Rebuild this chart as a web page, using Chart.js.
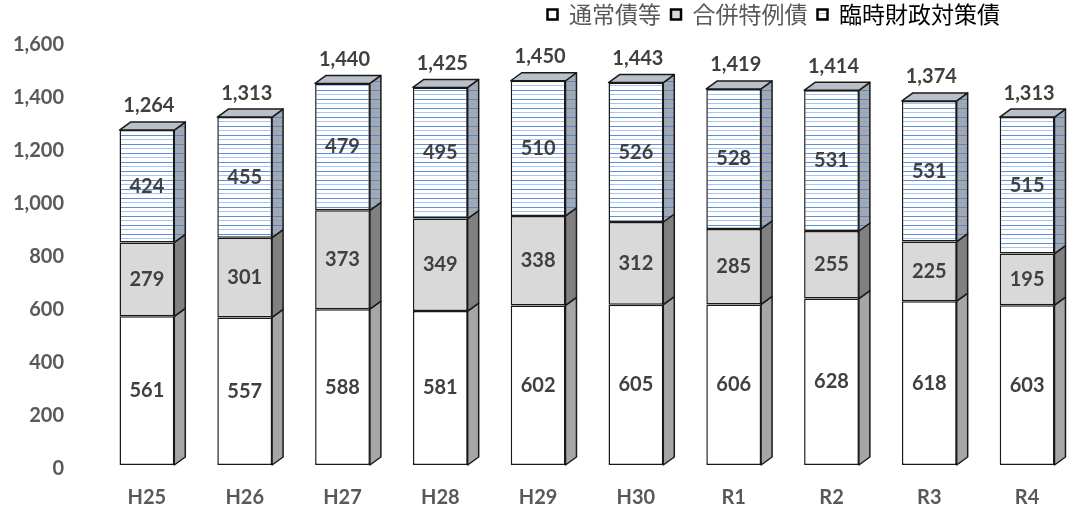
<!DOCTYPE html>
<html>
<head>
<meta charset="utf-8">
<script src="https://cdn.jsdelivr.net/npm/chart.js@4.4.0/dist/chart.umd.min.js"></script>
<style>
html, body { margin: 0; padding: 0; background: #fff; overflow: hidden; }
#wrap { width: 1076px; height: 513px; }
</style>
</head>
<body>
<div id="wrap"><canvas id="bar_chart"></canvas></div>
<script>
// data
var years = ['H25', 'H26', 'H27', 'H28', 'H29', 'H30', 'R1', 'R2', 'R3', 'R4'];
var tsujo = [561, 557, 588, 581, 602, 605, 606, 628, 618, 603];
var gappei = [279, 301, 373, 349, 338, 312, 285, 255, 225, 195];
var rinji = [424, 455, 479, 495, 510, 526, 528, 531, 531, 515];
var seriesNames = ['通常債等', '合併特例債', '臨時財政対策債'];
var yMax = 1600;
var yStep = 200;

function stripes(base, dark, light) {
    var c = document.createElement('canvas');
    c.width = 4;
    c.height = 9;
    var g = c.getContext('2d');
    g.fillStyle = base;
    g.fillRect(0, 0, 4, 9);
    g.fillStyle = dark;
    g.fillRect(0, 0, 4, 1);
    g.fillStyle = light;
    g.fillRect(0, 4, 4, 1);
    return document.getElementById('bar_chart').getContext('2d').createPattern(c, 'repeat');
}

var stripeFront = stripes('#ffffff', '#5b8fd6', '#a8c4ec');
var stripeSide = stripes('#a3a9b3', '#5b85c0', '#8ea4c4');
var sideColors = ['#a6a6a6', '#808080', stripeSide];
var topColor = '#b9c0ca';

function fmt(v) {
    return v.toLocaleString('en-US');
}

var depthPlugin = {
    id: 'depth3d',
    afterLayout: function(chart) {
        // legend sits right-aligned, ends short of the canvas edge, hugs the top
        chart.legend.right = 1010;
        chart.legend.top = -7;
    },
    afterDatasetsDraw: function(chart) {
        var ctx = chart.ctx;
        var dx = 11, dy = 8;
        var last = chart.data.datasets.length - 1;
        var tops = [];
        chart.data.datasets.forEach(function(ds, di) {
            var meta = chart.getDatasetMeta(di);
            meta.data.forEach(function(bar, i) {
                var p = bar.getProps(['x', 'y', 'base', 'width'], true);
                var left = p.x - p.width / 2, right = p.x + p.width / 2;
                var top = Math.min(p.y, p.base), bottom = Math.max(p.y, p.base);
                ctx.save();
                ctx.lineWidth = 1.5;
                ctx.strokeStyle = '#1a1a1a';
                ctx.lineJoin = 'round';
                ctx.beginPath();
                ctx.moveTo(right, bottom);
                ctx.lineTo(right + dx, bottom - dy);
                ctx.lineTo(right + dx, top - dy);
                ctx.lineTo(right, top);
                ctx.closePath();
                ctx.fillStyle = sideColors[di];
                ctx.fill();
                ctx.stroke();
                if (di == last) {
                    ctx.beginPath();
                    ctx.moveTo(left, top);
                    ctx.lineTo(left + dx, top - dy);
                    ctx.lineTo(right + dx, top - dy);
                    ctx.lineTo(right, top);
                    ctx.closePath();
                    ctx.fillStyle = topColor;
                    ctx.fill();
                    ctx.stroke();
                    tops[i] = {x: p.x, y: top};
                }
                ctx.fillStyle = '#404040';
                ctx.font = 'bold 20px Lato';
                ctx.textAlign = 'center';
                ctx.textBaseline = 'middle';
                ctx.fillText(fmt(ds.data[i]), p.x, (top + bottom) / 2);
                ctx.restore();
            });
        });
        // totals above each bar
        ctx.save();
        ctx.fillStyle = '#404040';
        ctx.font = 'bold 20px Lato';
        ctx.textAlign = 'center';
        ctx.textBaseline = 'middle';
        tops.forEach(function(t, i) {
            var total = tsujo[i] + gappei[i] + rinji[i];
            ctx.fillText(fmt(total), t.x + 2, t.y - 24);
        });
        ctx.restore();
    }
};

var ctx = document.getElementById('bar_chart');
var legendColors = ['#595959', '#595959', '#000000'];

var barChart = new Chart(ctx, {
    type: 'bar',
    data: {
        labels: years,
        datasets: [
            { label: seriesNames[0], data: tsujo, backgroundColor: '#ffffff' },
            { label: seriesNames[1], data: gappei, backgroundColor: '#d9d9d9' },
            { label: seriesNames[2], data: rinji, backgroundColor: stripeFront }
        ]
    },
    options: {
        responsive: true,
        maintainAspectRatio: false,
        animation: false,
        datasets: {
            bar: {
                borderColor: '#1a1a1a',
                borderWidth: 1.5,
                borderSkipped: false,
                barPercentage: 0.56,
                categoryPercentage: 1
            }
        },
        layout: { padding: { top: 0, right: 0, bottom: 0, left: 0 } },
        scales: {
            x: {
                stacked: true,
                grid: { display: false, drawTicks: false },
                border: { display: false },
                ticks: {
                    color: '#595959',
                    font: { family: 'Lato', size: 20, weight: 'bold' },
                    padding: 21
                },
                afterFit: function(s) { s.height = 48; }
            },
            y: {
                stacked: true,
                min: 0,
                max: yMax,
                grid: { display: false, drawTicks: false },
                border: { display: false },
                ticks: {
                    stepSize: yStep,
                    color: '#595959',
                    font: { family: 'Lato', size: 20, weight: 'bold' },
                    padding: 34,
                    labelOffset: 4,
                    callback: function(v) { return fmt(v); }
                },
                afterFit: function(s) {
                    s.width = 98;
                    s.paddingTop = 0;
                    s.paddingBottom = 0;
                }
            }
        },
        plugins: {
            tooltip: { enabled: false },
            legend: {
                position: 'top',
                align: 'end',
                maxHeight: 41,
                labels: {
                    boxWidth: 10,
                    boxHeight: 10,
                    padding: 10,
                    font: { family: 'Noto Sans CJK JP', size: 23 },
                    generateLabels: function(chart) {
                        var items = Chart.defaults.plugins.legend.labels.generateLabels(chart);
                        items.forEach(function(it, i) {
                            it.strokeStyle = '#000';
                            it.lineWidth = 2.5;
                            it.fontColor = legendColors[i];
                        });
                        return items;
                    }
                }
            }
        }
    },
    plugins: [depthPlugin]
});
</script>
</body>
</html>
